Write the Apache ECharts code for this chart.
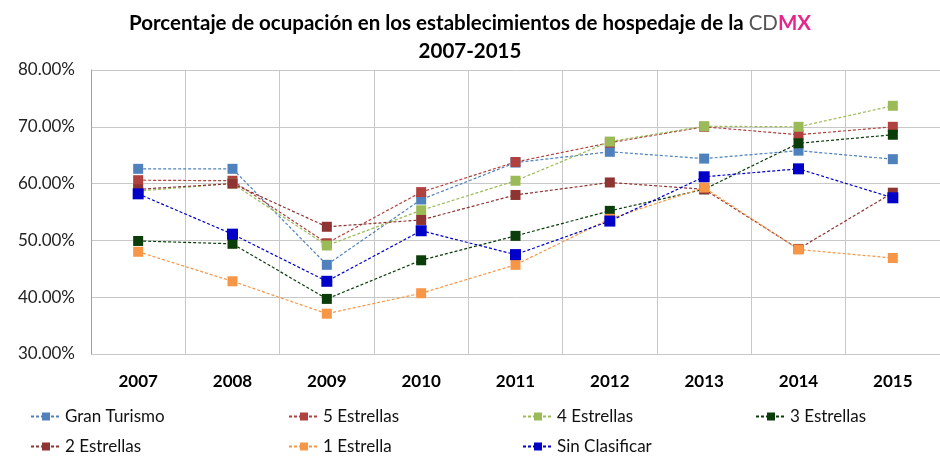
<!DOCTYPE html>
<html>
<head>
<meta charset="utf-8">
<script src="https://cdn.jsdelivr.net/npm/echarts@6/dist/echarts.min.js"></script>
<style>
  html, body { margin: 0; padding: 0; background: #fff; }
  #chart { width: 940px; height: 460px; }
</style>
</head>
<body>
<div id="chart"></div>
<script>
// years on the x axis
const years = ['2007', '2008', '2009', '2010', '2011', '2012', '2013', '2014', '2015']

// occupancy in percent
const granTurismo = [62.6, 62.6, 45.7, 57.2, 63.7, 65.6, 64.4, 65.8, 64.3]
const cinco = [60.6, 60.5, 49.5, 58.5, 63.8, 67.2, 70.0, 68.6, 70.0]
const cuatro = [58.7, 60.0, 49.1, 55.3, 60.5, 67.4, 70.1, 70.0, 73.7]
const tres = [49.9, 49.4, 39.7, 46.5, 50.8, 55.2, 59.0, 67.1, 68.6]
const dos = [59.0, 60.0, 52.4, 53.6, 58.0, 60.2, 59.0, 48.5, 58.4]
const una = [48.0, 42.8, 37.1, 40.7, 45.7, 53.8, 59.3, 48.4, 46.9]
const sinClasificar = [58.2, 51.1, 42.8, 51.7, 47.5, 53.4, 61.2, 62.6, 57.5]

const names = ['Gran Turismo', '5 Estrellas', '4 Estrellas', '3 Estrellas', '2 Estrellas', '1 Estrella', 'Sin Clasificar']
const values = [granTurismo, cinco, cuatro, tres, dos, una, sinClasificar]
const colors = ['#4f81bd', '#b0413e', '#9bbb59', '#0b3d0b', '#8e3432', '#f79646', '#0000c8']

// legend positions (two rows, four columns)
const legendPos = [[30, 408], [288, 408], [522, 408], [755, 408], [30, 438], [288, 438], [522, 438]]

const FONT = 'Lato'

const chart = echarts.init(document.getElementById('chart'), null, { renderer: 'canvas' })

chart.setOption({
    animation: false,
    title: {
        text: '{b|Porcentaje de ocupación en los establecimientos de hospedaje de la }{cd|CD}{mx|MX}\n{b|2007-2015}',
        left: 'center',
        top: 4,
        textStyle: {
            rich: {
                b: { fontFamily: FONT, fontWeight: 'bold', fontSize: 20.5, color: '#000', lineHeight: 28 },
                cd: { fontFamily: FONT, fontWeight: 'normal', fontSize: 20.5, color: '#555', lineHeight: 28 },
                mx: { fontFamily: FONT, fontWeight: 'bold', fontSize: 20.5, color: '#e6268c', lineHeight: 28 }
            }
        }
    },
    legend: names.map((n, i) => ({
        data: [n],
        left: legendPos[i][0],
        top: legendPos[i][1],
        padding: 0,
        itemWidth: 30,
        itemHeight: 10,
        textStyle: { fontFamily: FONT, fontSize: 17, color: '#111', padding: [0, 0, 0, -1] }
    })),
    grid: { left: 91, top: 70, width: 856, height: 284 },
    xAxis: {
        type: 'category',
        data: years,
        boundaryGap: true,
        axisLine: { show: false },
        axisTick: { show: false },
        axisLabel: { fontFamily: FONT, fontWeight: 'bold', fontSize: 17, color: '#000', margin: 19 },
        splitLine: { show: true, lineStyle: { color: '#c8c8c8', width: 1 } }
    },
    yAxis: {
        type: 'value',
        min: 30,
        max: 80,
        interval: 10,
        axisLine: { show: true, lineStyle: { color: '#a0a0a0' } },
        axisTick: { show: false },
        axisLabel: {
            fontFamily: FONT, fontSize: 17, color: '#222', margin: 16,
            formatter: v => v.toFixed(2) + '%'
        },
        splitLine: { lineStyle: { color: '#c8c8c8', width: 1 } }
    },
    series: names.map((n, i) => ({
        name: n,
        type: 'line',
        data: values[i],
        symbol: 'rect',
        symbolSize: i === 6 ? 11 : 10,
        itemStyle: { color: colors[i] },
        lineStyle: { color: colors[i], width: 1.2, type: [3, 2] }
    }))
})
</script>
</body>
</html>
